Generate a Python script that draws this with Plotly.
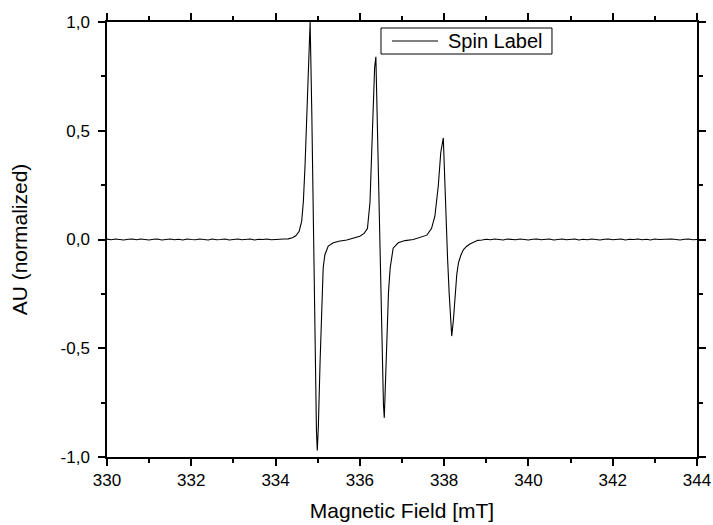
import plotly.graph_objects as go

# ---------------- data ----------------
base_left_x = [330.0, 330.1, 330.2, 330.3, 330.4, 330.5, 330.6, 330.7, 330.8, 330.9,
               331.0, 331.1, 331.2, 331.3, 331.4, 331.5, 331.6, 331.7, 331.8, 331.9,
               332.0, 332.1, 332.2, 332.3, 332.4, 332.5, 332.6, 332.7, 332.8, 332.9,
               333.0, 333.1, 333.2, 333.3, 333.4, 333.5, 333.6, 333.7, 333.8, 333.9,
               334.0, 334.1, 334.2]
base_left_y = [0.002, -0.001, 0.002, 0.000, -0.002, 0.001, 0.002, -0.001, 0.002, 0.000,
               -0.002, 0.001, 0.002, -0.002, 0.000, 0.002, -0.001, 0.001, -0.002, 0.002,
               0.000, -0.001, 0.002, 0.001, -0.002, 0.002, -0.001, 0.000, 0.002, -0.002,
               0.001, 0.002, -0.001, 0.000, 0.002, -0.002, 0.001, 0.000, 0.002, -0.001,
               0.001, 0.002, 0.002]

lines_x = [334.30, 334.40, 334.48, 334.56, 334.62, 334.66, 334.70, 334.74, 334.78, 334.82,
           334.86, 334.90, 334.94, 334.97, 334.99, 335.015, 335.055, 335.095, 335.13, 335.17,
           335.25, 335.37, 335.50, 335.69, 335.85, 336.00, 336.10, 336.18, 336.24, 336.28,
           336.32, 336.35, 336.38, 336.42, 336.47, 336.52, 336.56, 336.58, 336.61, 336.64,
           336.68, 336.72, 336.79, 336.91, 337.07, 337.27, 337.45, 337.59, 337.70, 337.78,
           337.86, 337.92, 337.98, 338.01, 338.04, 338.08, 338.12, 338.16, 338.18, 338.22,
           338.26, 338.30, 338.34, 338.40, 338.46, 338.53, 338.61, 338.72, 338.80]
lines_y = [0.003, 0.008, 0.017, 0.038, 0.084, 0.176, 0.344, 0.573, 0.85, 1.0,
           0.58, 0.02, -0.55, -0.88, -0.97, -0.86, -0.57, -0.27, -0.13, -0.07,
           -0.03, -0.015, -0.008, -0.002, 0.006, 0.015, 0.028, 0.05, 0.17, 0.42,
           0.65, 0.79, 0.84, 0.45, -0.05, -0.50, -0.76, -0.82, -0.66, -0.42,
           -0.24, -0.13, -0.04, -0.015, -0.005, 0.0, 0.012, 0.02, 0.05, 0.107,
           0.245, 0.40, 0.467, 0.30, 0.09, -0.08, -0.25, -0.41, -0.444, -0.37,
           -0.245, -0.16, -0.107, -0.07, -0.046, -0.032, -0.021, -0.01, -0.004]

base_right_x = [338.9, 339.0, 339.1, 339.2, 339.3, 339.4, 339.5, 339.6, 339.7, 339.8,
                339.9, 340.0, 340.1, 340.2, 340.3, 340.4, 340.5, 340.6, 340.7, 340.8,
                340.9, 341.0, 341.1, 341.2, 341.3, 341.4, 341.5, 341.6, 341.7, 341.8,
                341.9, 342.0, 342.1, 342.2, 342.3, 342.4, 342.5, 342.6, 342.7, 342.8,
                342.9, 343.0, 343.1, 343.2, 343.3, 343.4, 343.5, 343.6, 343.7, 343.8,
                343.9, 344.0]
base_right_y = [-0.002, 0.001, -0.001, 0.002, 0.000, -0.002, 0.002, 0.001, -0.001, 0.002,
                0.000, -0.002, 0.001, 0.002, -0.001, 0.000, 0.002, -0.002, 0.001, 0.002,
                -0.001, 0.000, 0.002, -0.002, 0.001, -0.001, 0.002, 0.000, -0.002, 0.001,
                0.002, -0.001, 0.000, 0.002, -0.002, 0.001, 0.000, 0.002, -0.001, 0.001,
                -0.002, 0.002, 0.000, 0.001, -0.001, 0.002, 0.000, -0.002, 0.001, 0.002,
                -0.001, 0.000]

x_ticks = [330, 332, 334, 336, 338, 340, 342, 344]
x_tick_text = ["330", "332", "334", "336", "338", "340", "342", "344"]
y_ticks = [-1.0, -0.5, 0.0, 0.5, 1.0]
y_tick_text = ["-1,0", "-0,5", "0,0", "0,5", "1,0"]
series_name = "Spin Label"

field = base_left_x + lines_x + base_right_x
signal = base_left_y + lines_y + base_right_y

# ---------------- figure ----------------
FONT = "Arial, 'Liberation Sans', sans-serif"

fig = go.Figure()
fig.add_trace(go.Scatter(x=field, y=signal, mode="lines", name=series_name,
                         line=dict(color="black", width=1.1), showlegend=False))

axis_common = dict(
    showline=True, linecolor="black", linewidth=1.5, mirror="allticks",
    ticks="outside", ticklen=7, tickwidth=1.5, tickcolor="black",
    showgrid=False, zeroline=False, automargin=False,
    tickfont=dict(family=FONT, size=17, color="black"),
)

fig.update_xaxes(
    range=[330, 344], tickmode="array", tickvals=x_ticks, ticktext=x_tick_text,
    minor=dict(dtick=1, ticklen=4, tickwidth=1.5, tickcolor="black", ticks="outside"),
    title=dict(text="Magnetic Field [mT]", font=dict(family=FONT, size=21, color="black"),
               standoff=14),
    **axis_common,
)
fig.update_yaxes(
    range=[-1, 1], tickmode="array", tickvals=y_ticks, ticktext=y_tick_text,
    ticklabelstandoff=5,
    minor=dict(dtick=0.25, ticklen=4, tickwidth=1.5, tickcolor="black", ticks="outside"),
    title=dict(text="AU (normalized)", font=dict(family=FONT, size=21, color="black"),
               standoff=27),
    **axis_common,
)

# legend box drawn in paper coordinates (Origin-style, long line sample)
fig.add_shape(type="rect", xref="paper", yref="paper",
              x0=0.4644, x1=0.7542, y0=0.9264, y1=0.9862,
              line=dict(color="black", width=1), fillcolor="white", layer="above")
fig.add_shape(type="line", xref="paper", yref="paper",
              x0=0.4831, x1=0.5610, y0=0.9563, y1=0.9563,
              line=dict(color="black", width=1), layer="above")
fig.add_annotation(xref="paper", yref="paper", x=0.5746, y=0.9563,
                   xanchor="left", yanchor="middle", showarrow=False,
                   text=series_name, font=dict(family=FONT, size=20, color="black"))

fig.update_layout(
    width=713, height=525,
    margin=dict(l=107, r=16, t=22, b=68, autoexpand=False),
    paper_bgcolor="white", plot_bgcolor="white",
)

fig.write_html("out.html")
